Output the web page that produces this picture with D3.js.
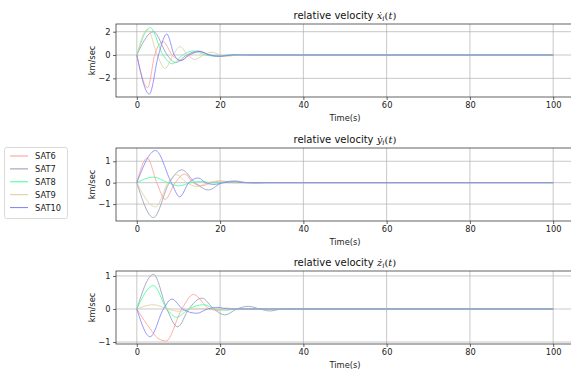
<!DOCTYPE html>
<html>
<head>
<meta charset="utf-8">
<script src="https://cdn.jsdelivr.net/npm/d3@7"></script>
<style>
  body { margin: 0; background: #fff; }
  svg { display: block; font-family: "DejaVu Sans", sans-serif; }
</style>
</head>
<body>
<div id="chart"></div>
<script>
// Settings
const SIZE = [571, 373]
const X_RANGE = [116, 574]
const PANEL_TOPS = [24, 148, 271]
const PANEL_H = 73

// Data
const sats = ["SAT6", "SAT7", "SAT8", "SAT9", "SAT10"]
const satColors = ["#ff9a90", "#9099b4", "#3dff99", "#dccb9e", "#7c7cff"]
const xDomain = [-5, 105]
const xTicks = [0, 20, 40, 60, 80, 100]
const yDomains = [[-3.6, 2.66], [-1.79, 1.62], [-1.06, 1.15]]
const yTicks = [[-2, 0, 2], [-1, 0, 1], [-1, 0, 1]]
const titleVars = ["ẋ", "ẏ", "ż"]

// relative velocity x-dot, [t, km/sec]
const xdotSAT6 = [[0,0],[2.6,-2.8],[4.3,0],[6.3,1.15],[8.5,0],[10.5,-0.45],[12.7,0],[15,0.3],[17.5,0],[19.8,-0.12],[22.3,0],[25,0.05],[28,0],[100,0]]
const xdotSAT7 = [[0,0],[4,2.0],[7.3,0],[9.3,-0.65],[12,0],[14.8,0.35],[17.5,0],[20,-0.12],[23,0],[26,0.04],[29,0],[100,0]]
const xdotSAT8 = [[0,0],[3.2,2.35],[6.3,0],[8.5,-0.75],[11,0],[13.6,0.35],[16.5,0],[19,-0.1],[21.5,0],[24,0.03],[26,0],[100,0]]
const xdotSAT9 = [[0,0],[2.6,2.2],[4.9,0],[6.8,-1.15],[8.7,0],[10.4,0.72],[12.2,0],[14,-0.38],[16,0],[18,0.25],[20,0],[22,-0.1],[24,0],[26,0.03],[28,0],[100,0]]
const xdotSAT10 = [[0,0],[3,-3.35],[5.2,0],[7.2,1.8],[9,0],[10.5,-0.5],[12.5,0],[15,0.3],[17.5,0],[20,-0.1],[23,0],[100,0]]

// relative velocity y-dot
const ydotSAT6 = [[0,0],[2.5,1.15],[4.8,0],[6.8,-0.78],[9.2,0],[11.5,0.4],[13.5,0],[15.5,-0.15],[18,0],[20.5,0.08],[23,0],[100,0]]
const ydotSAT7 = [[0,0],[4,-1.63],[7.8,0],[10.8,0.6],[14,0],[17.2,-0.34],[20.5,0],[23.5,0.08],[26.5,0],[29,-0.02],[31,0],[100,0]]
const ydotSAT8 = [[0,0],[4,0.26],[7.5,0],[10,-0.15],[13,0],[15.5,0.06],[18,0],[100,0]]
const ydotSAT9 = [[0,0],[4.5,-1.13],[7.5,0],[9.5,0.37],[12,0],[14.5,-0.18],[17,0],[19.5,0.08],[22,0],[100,0]]
const ydotSAT10 = [[0,0],[4.5,1.5],[8.3,0],[10.3,-0.66],[12.5,0],[14.8,0.22],[16.5,0],[18.5,-0.08],[21,0],[23.5,0.05],[26,0],[100,0]]

// relative velocity z-dot
const zdotSAT6 = [[0,0],[1.8,-0.35],[3.2,-0.6],[5,-0.88],[7,-0.97],[10.8,0],[13.6,0.44],[17.5,0],[19.5,-0.04],[21.5,0.03],[24,0],[100,0]]
const zdotSAT7 = [[0,0],[4,1.05],[7.2,0],[9.8,-0.54],[12.5,0],[15.6,0.33],[18.5,0],[21.2,-0.18],[24,0],[26.8,0.08],[29.5,0],[32,-0.06],[35,0],[100,0]]
const zdotSAT8 = [[0,0],[4,0.71],[7.2,0],[9.6,-0.25],[12.5,0],[16,0.13],[19,0],[21.5,-0.04],[24,0],[100,0]]
const zdotSAT9 = [[0,0],[4,0.13],[7.5,0],[10,-0.07],[13,0],[100,0]]
const zdotSAT10 = [[0,0],[3.2,-0.84],[6.4,0],[8.4,0.3],[11,0],[14.4,-0.13],[17,0],[19.5,0.05],[22,0],[100,0]]

const panelData = [
  [xdotSAT6, xdotSAT7, xdotSAT8, xdotSAT9, xdotSAT10],
  [ydotSAT6, ydotSAT7, ydotSAT8, ydotSAT9, ydotSAT10],
  [zdotSAT6, zdotSAT7, zdotSAT8, zdotSAT9, zdotSAT10]
]

const fmt = d => d < 0 ? "\u2212" + Math.abs(d) : String(d)

const svg = d3.select("#chart").append("svg")
  .attr("width", SIZE[0])
  .attr("height", SIZE[1])

const scaleX = d3.scaleLinear().domain(xDomain).range(X_RANGE)

function drawPanel(i) {
  const top = PANEL_TOPS[i]
  const bottom = top + PANEL_H
  const scaleY = d3.scaleLinear().domain(yDomains[i]).range([bottom, top])
  const g = svg.append("g")

  // grid
  g.append("g")
    .selectAll("line")
    .data(xTicks)
    .join("line")
      .attr("x1", d => scaleX(d)).attr("x2", d => scaleX(d))
      .attr("y1", top).attr("y2", bottom)
      .attr("stroke", "#b0b0b0").attr("stroke-width", 0.7)
  g.append("g")
    .selectAll("line")
    .data(yTicks[i])
    .join("line")
      .attr("x1", X_RANGE[0]).attr("x2", X_RANGE[1])
      .attr("y1", d => scaleY(d)).attr("y2", d => scaleY(d))
      .attr("stroke", "#b0b0b0").attr("stroke-width", 0.7)

  const line = d3.line()
    .x(d => scaleX(d[0]))
    .y(d => scaleY(d[1]))
    .curve(d3.curveMonotoneX)

  g.append("g")
      .attr("fill", "none")
      .attr("stroke-width", 0.8)
    .selectAll("path")
    .data(panelData[i])
    .join("path")
      .attr("d", line)
      .attr("stroke", (d, k) => satColors[k])

  // axes
  g.append("g")
    .attr("transform", `translate(0,${bottom})`)
    .call(d3.axisBottom(scaleX).tickValues(xTicks).tickSize(3).tickPadding(2.5).tickSizeOuter(0))
    .call(a => a.select(".domain").remove())
  g.append("g")
    .attr("transform", `translate(${X_RANGE[0]},0)`)
    .call(d3.axisLeft(scaleY).tickValues(yTicks[i]).tickFormat(fmt).tickSize(3).tickPadding(2.5).tickSizeOuter(0))
    .call(a => a.select(".domain").remove())
  g.selectAll(".tick text").attr("font-size", 8.3).attr("fill", "#222").attr("font-family", "DejaVu Sans")
  g.selectAll(".tick line").attr("stroke", "#222").attr("stroke-width", 0.7)

  g.append("rect")
    .attr("x", X_RANGE[0]).attr("y", top)
    .attr("width", X_RANGE[1] - X_RANGE[0]).attr("height", PANEL_H)
    .attr("fill", "none").attr("stroke", "#222").attr("stroke-width", 0.7)

  // labels
  const midX = (X_RANGE[0] + X_RANGE[1]) / 2
  g.append("text")
    .attr("x", midX).attr("y", bottom + 24)
    .attr("text-anchor", "middle").attr("font-size", 8.3).attr("fill", "#222")
    .text("Time(s)")
  g.append("text")
    .attr("transform", `translate(95,${(top + bottom) / 2}) rotate(-90)`)
    .attr("text-anchor", "middle").attr("font-size", 8.3).attr("fill", "#222")
    .text("km/sec")

  const title = g.append("text")
    .attr("x", midX).attr("y", top - 5)
    .attr("text-anchor", "middle").attr("font-size", 10).attr("fill", "#111")
  title.append("tspan").text("relative velocity ")
  title.append("tspan").attr("font-family", "DejaVu Serif").attr("font-style", "italic").text(titleVars[i])
  title.append("tspan").attr("font-family", "DejaVu Serif").attr("font-style", "italic")
    .attr("font-size", 7).attr("dy", 2).text("i")
  title.append("tspan").attr("font-family", "DejaVu Serif").attr("dy", -2).text("(")
  title.append("tspan").attr("font-family", "DejaVu Serif").attr("font-style", "italic").text("t")
  title.append("tspan").attr("font-family", "DejaVu Serif").text(")")
}

[0, 1, 2].forEach(drawPanel)

// legend
const legend = svg.append("g")
legend.append("rect")
  .attr("x", 4.5).attr("y", 147.5).attr("width", 63).attr("height", 71).attr("rx", 2)
  .attr("fill", "#fff").attr("stroke", "#d0d0d0").attr("stroke-width", 0.8)
const entry = legend.selectAll("g.entry")
  .data(sats)
  .join("g")
    .attr("class", "entry")
    .attr("transform", (d, k) => `translate(0,${156 + k * 12.9})`)
entry.append("line")
  .attr("x1", 10).attr("x2", 28)
  .attr("stroke", (d, k) => satColors[k]).attr("stroke-width", 1)
entry.append("text")
  .attr("x", 35).attr("y", 3)
  .attr("font-size", 8.3).attr("fill", "#222")
  .text(d => d)
</script>
</body>
</html>
